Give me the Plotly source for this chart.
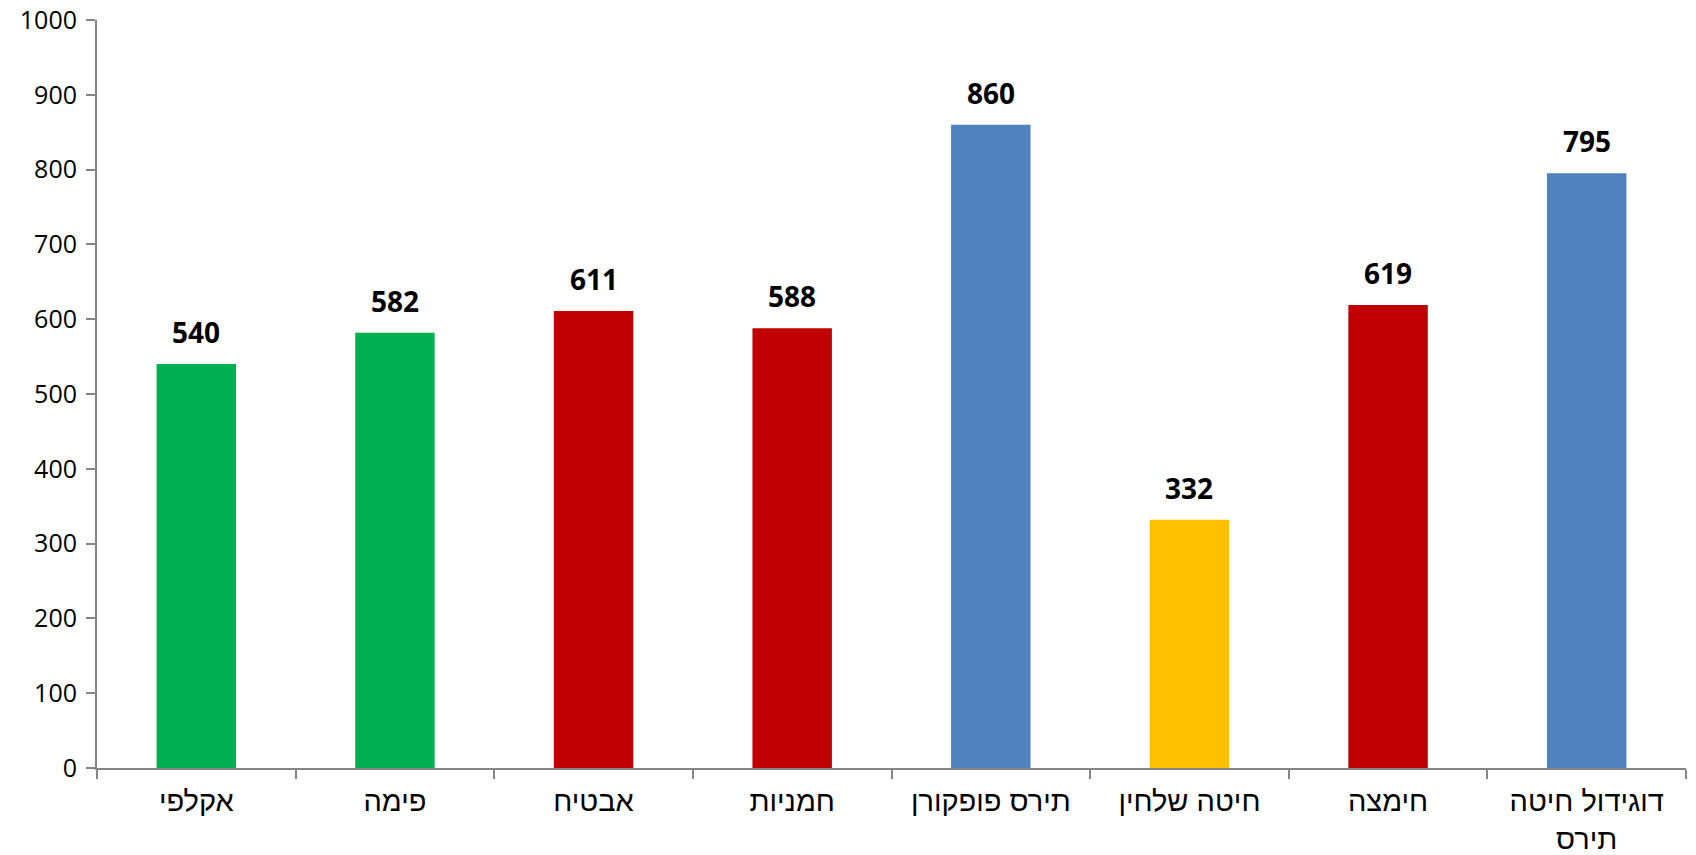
import plotly.graph_objects as go

categories = ["אקלפי", "פימה", "אבטיח", "חמניות", "תירס פופקורן", "חיטה שלחין", "חימצה", "דוגידול חיטה<br>תירס"]
values = [540, 582, 611, 588, 860, 332, 619, 795]
colors = ["#00B050", "#00B050", "#C00000", "#C00000", "#4F81BD", "#FFC000", "#C00000", "#4F81BD"]
y_ticks = list(range(0, 1001, 100))

NUM_FONT = "Open Sans, Liberation Sans, Arial, sans-serif"
HEB_FONT = "Liberation Sans, Arial, sans-serif"

fig = go.Figure(go.Bar(x=categories, y=values, marker=dict(color=colors, line=dict(width=0)), hoverinfo="skip"))

for c, v in zip(categories, values):
    fig.add_annotation(x=c, y=v, text=f"<b>{v}</b>", showarrow=False, yanchor="bottom", yshift=11,
                       font=dict(family=NUM_FONT, size=28, color="black"))

axis_col = "#868686"
fig.update_layout(
    width=1696, height=855,
    margin=dict(l=97, r=10, t=20, b=87, autoexpand=False),
    plot_bgcolor="white", paper_bgcolor="white",
    bargap=0.6, showlegend=False,
    font=dict(family=NUM_FONT, size=25, color="black"),
    xaxis=dict(type="category", showline=True, linecolor=axis_col, linewidth=2, automargin=False,
               ticks="outside", tickson="boundaries", ticklen=9, tickcolor=axis_col, tickwidth=2,
               tickfont=dict(family=HEB_FONT, size=29, color="black"), ticklabelstandoff=6, showgrid=False),
    yaxis=dict(range=[0, 1000], tickvals=y_ticks, showline=True, linecolor=axis_col, linewidth=2, automargin=False,
               ticks="outside", ticklen=9, tickcolor=axis_col, tickwidth=2, showgrid=False, zeroline=False,
               tickfont=dict(family=NUM_FONT, size=25, color="black"), ticklabelstandoff=4),
)

fig.write_html("out.html", config={"displayModeBar": False},
               post_script="document.body.style.margin='0';document.body.style.overflow='hidden';")
